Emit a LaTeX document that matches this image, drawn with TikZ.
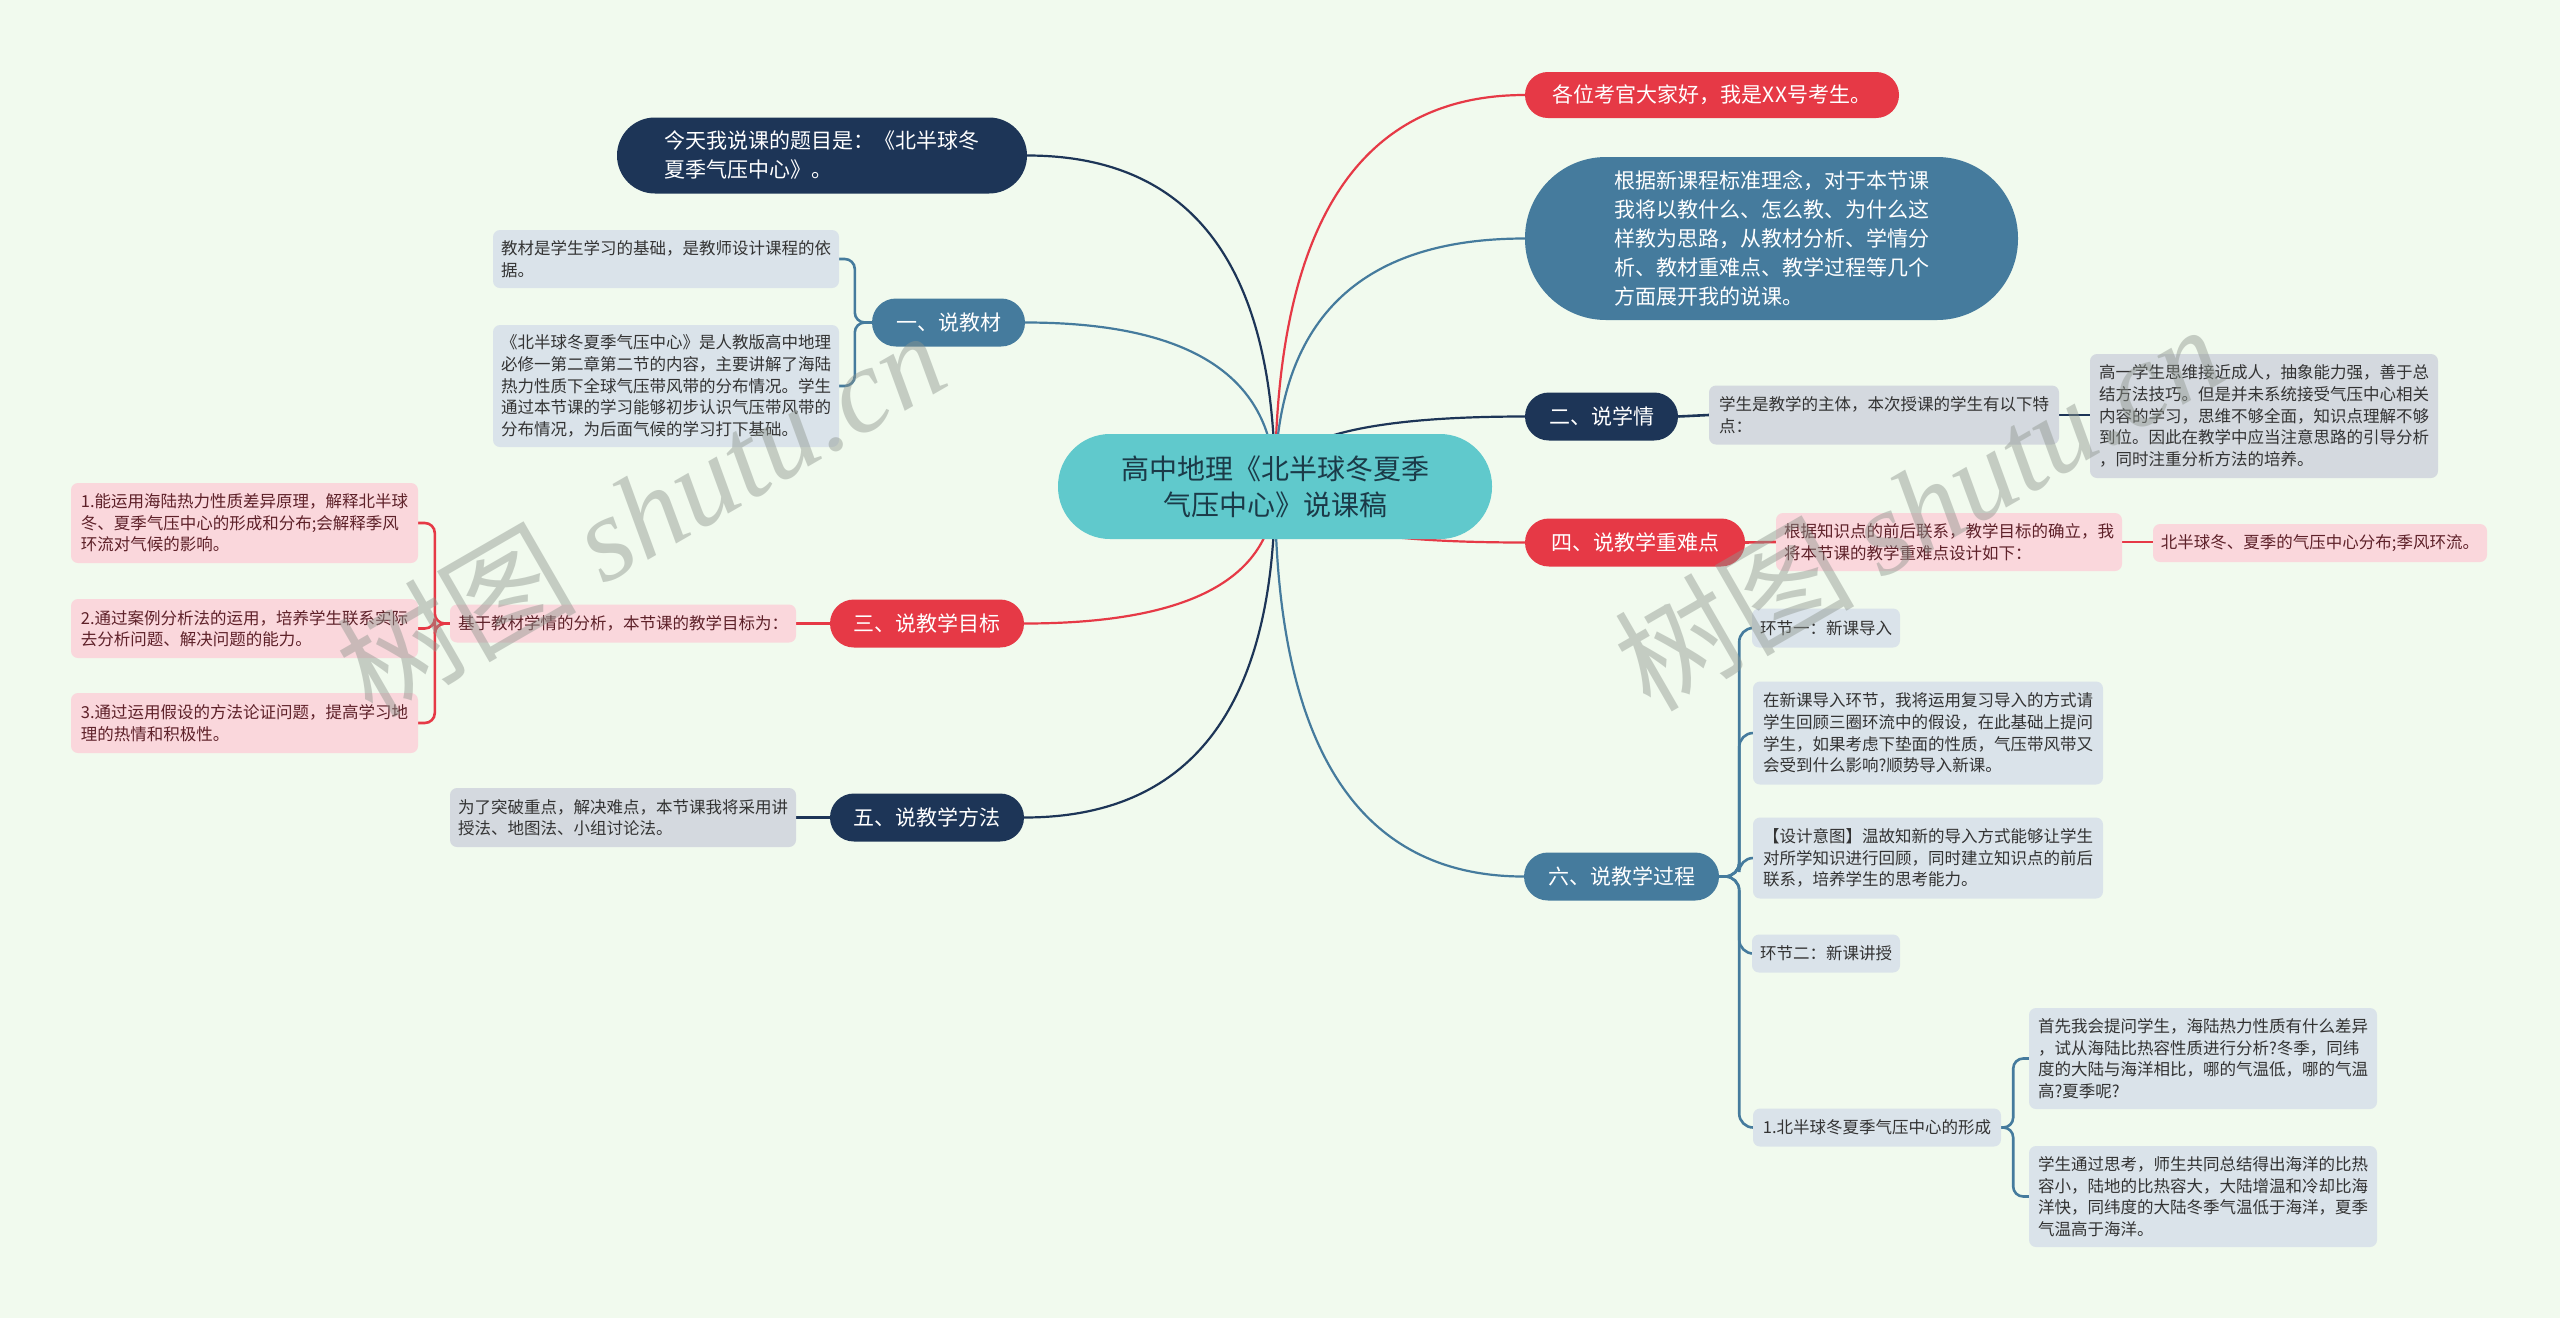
\documentclass[tikz,border=0pt]{standalone}
\usepackage{fontspec}
\setmainfont{Noto Sans CJK SC}
\newfontfamily\wmserif{Liberation Serif}
\usetikzlibrary{calc}
\definecolor{bgc}{HTML}{F1FAEE}
\definecolor{redc}{HTML}{E63946}
\definecolor{navyc}{HTML}{1D3557}
\definecolor{bluec}{HTML}{457B9D}
\definecolor{tealc}{HTML}{60C9CC}
\definecolor{grayfill}{HTML}{D4D9DF}
\definecolor{bluefill}{HTML}{DAE3EA}
\definecolor{pinkfill}{HTML}{FAD7DC}
\definecolor{pinktext}{HTML}{5E2129}
\definecolor{graytext}{HTML}{333333}
\definecolor{centertext}{HTML}{1B3A48}
\definecolor{wmc}{HTML}{8E968E}
\newcommand\fsmain{\fontsize{21}{29}\selectfont}
\newcommand\fssmall{\fontsize{16.5}{21.6}\selectfont}
\newcommand\fscenter{\fontsize{28}{36}\selectfont}
\newcommand\branch[2]{%
  \coordinate (k) at (cen.center |- #2);
  \draw[#1, edge] (cen.center) .. controls ($(cen.center)!0.6667!(k)$) and ($(#2)!0.6667!(k)$) .. (#2);}
\pgfdeclarelayer{bg}
\pgfdeclarelayer{edges}
\pgfdeclarelayer{wm}
\pgfsetlayers{bg,edges,main,wm}
\begin{document}
\begin{tikzpicture}[x=1pt,y=-1pt,
  pill/.style={rounded corners=#1, inner sep=2pt, align=left, text=white, font=\fsmain},
  sz/.style 2 args={minimum width=#1, minimum height=#2},
  gbox/.style={rounded corners=7, fill=grayfill, text=graytext, font=\fssmall, align=left, inner sep=2pt},
  bbox/.style={gbox, fill=bluefill},
  pbox/.style={gbox, fill=pinkfill, text=pinktext},
  edge/.style={line width=2.2pt},
  sub/.style={line width=2.6pt},
  wmark/.style={rotate=30, text=wmc, opacity=0.45, font=\fontsize{120}{120}\selectfont}
]
\begin{pgfonlayer}{bg}
\fill[bgc] (0,0) rectangle (2560,1318);
\end{pgfonlayer}
\useasboundingbox (0,0) rectangle (2560,1318);

% center
\node[fill=tealc, rounded corners=52, sz={434}{105}, font=\fscenter, text=centertext, align=center, inner sep=2pt] (cen) at (1275,486.5) {高中地理《北半球冬夏季\\气压中心》说课稿};

% right side
\node[pill=22.9, fill=redc, sz={374}{46}] (r1) at (1712,95) {各位考官大家好，我是XX号考生。};
\node[pill=81, fill=bluec, sz={493}{163}] (r2) at (1771.5,238.5) {根据新课程标准理念，对于本节课\\我将以教什么、怎么教、为什么这\\样教为思路，从教材分析、学情分\\析、教材重难点、教学过程等几个\\方面展开我的说课。};
\node[pill=23.9, fill=navyc, sz={153}{48}] (r3) at (1601.5,416.5) {二、说学情};
\node[gbox, sz={350}{59}] (r3a) at (1884,415) {学生是教学的主体，本次授课的学生有以下特\\点：};
\node[gbox, sz={348}{124}] (r3b) at (2264,416) {高一学生思维接近成人，抽象能力强，善于总\\结方法技巧。但是并未系统接受气压中心相关\\内容的学习，思维不够全面，知识点理解不够\\到位。因此在教学中应当注意思路的引导分析\\，同时注重分析方法的培养。};
\node[pill=23.9, fill=redc, sz={220}{48}] (r4) at (1635,542.5) {四、说教学重难点};
\node[pbox, sz={346}{58}] (r4a) at (1949,542) {根据知识点的前后联系，教学目标的确立，我\\将本节课的教学重难点设计如下：};
\node[pbox, sz={334}{38}] (r4b) at (2320,543) {北半球冬、夏季的气压中心分布;季风环流。};
\node[pill=23.9, fill=bluec, sz={195}{48}] (r6) at (1621.5,876.5) {六、说教学过程};
\node[bbox, sz={148}{39}] (r6a) at (1826,628) {环节一：新课导入};
\node[bbox, sz={350}{103}] (r6b) at (1928,733) {在新课导入环节，我将运用复习导入的方式请\\学生回顾三圈环流中的假设，在此基础上提问\\学生，如果考虑下垫面的性质，气压带风带又\\会受到什么影响?顺势导入新课。};
\node[bbox, sz={350}{81}] (r6c) at (1928,858) {【设计意图】温故知新的导入方式能够让学生\\对所学知识进行回顾，同时建立知识点的前后\\联系，培养学生的思考能力。};
\node[bbox, sz={148}{38}] (r6d) at (1826,953.5) {环节二：新课讲授};
\node[bbox, sz={248}{38}] (r6e) at (1877,1127.5) {1.北半球冬夏季气压中心的形成};
\node[bbox, sz={348}{101}] (r6e1) at (2203,1058.5) {首先我会提问学生，海陆热力性质有什么差异\\，试从海陆比热容性质进行分析?冬季，同纬\\度的大陆与海洋相比，哪的气温低，哪的气温\\高?夏季呢?};
\node[bbox, sz={348}{101}] (r6e2) at (2203,1196.5) {学生通过思考，师生共同总结得出海洋的比热\\容小，陆地的比热容大，大陆增温和冷却比海\\洋快，同纬度的大陆冬季气温低于海洋，夏季\\气温高于海洋。};

% left side
\node[pill=37.9, fill=navyc, sz={410}{76}] (l1) at (822,155.5) {今天我说课的题目是：《北半球冬\\夏季气压中心》。};
\node[pill=23.9, fill=bluec, sz={153}{48}] (l2) at (948.5,322.5) {一、说教材};
\node[bbox, sz={346}{58}] (l2a) at (666,259) {教材是学生学习的基础，是教师设计课程的依\\据。};
\node[bbox, sz={346}{122}] (l2b) at (666,386) {《北半球冬夏季气压中心》是人教版高中地理\\必修一第二章第二节的内容，主要讲解了海陆\\热力性质下全球气压带风带的分布情况。学生\\通过本节课的学习能够初步认识气压带风带的\\分布情况，为后面气候的学习打下基础。};
\node[pill=23.9, fill=redc, sz={194}{48}] (l3) at (927,623.5) {三、说教学目标};
\node[pbox, sz={346}{38}] (l3a) at (623,623.5) {基于教材学情的分析，本节课的教学目标为：};
\node[pbox, sz={347}{80}] (l3b) at (244.5,523) {1.能运用海陆热力性质差异原理，解释北半球\\冬、夏季气压中心的形成和分布;会解释季风\\环流对气候的影响。};
\node[pbox, sz={347}{59}] (l3c) at (244.5,628.5) {2.通过案例分析法的运用，培养学生联系实际\\去分析问题、解决问题的能力。};
\node[pbox, sz={347}{60}] (l3d) at (244.5,723) {3.通过运用假设的方法论证问题，提高学习地\\理的热情和积极性。};
\node[pill=23.9, fill=navyc, sz={194}{48}] (l5) at (927,817.5) {五、说教学方法};
\node[gbox, sz={346}{59}] (l5a) at (623,817.5) {为了突破重点，解决难点，本节课我将采用讲\\授法、地图法、小组讨论法。};

\begin{pgfonlayer}{edges}
\branch{redc}{r1.west}
\branch{bluec}{r2.west}
\branch{navyc}{r3.west}
\branch{redc}{r4.west}
\branch{bluec}{r6.west}
\branch{navyc}{l1.east}
\branch{bluec}{l2.east}
\branch{redc}{l3.east}
\branch{navyc}{l5.east}
\draw[sub, navyc] (r3.east) -- (r3a.west);
\draw[sub, navyc] (r3a.east) -- (r3a.east -| r3b.west);
\draw[sub, redc] (r4.east) -- (r4a.west);
\draw[sub, redc] (r4a.east) -- (r4a.east -| r4b.west);
\foreach \c in {r6a,r6b,r6c,r6d,r6e}
  \draw[sub, bluec, rounded corners=14] (r6.east) -- ++(20,0) |- (\c.west);
\foreach \c in {r6e1,r6e2}
  \draw[sub, bluec, rounded corners=10] (r6e.east) -- ++(12,0) |- (\c.west);
\foreach \c in {l2a,l2b}
  \draw[sub, bluec, rounded corners=10] (l2.west) -- ++(-17,0) |- (\c.east);
\draw[sub, redc] (l3.west) -- (l3a.east);
\foreach \c in {l3b,l3c,l3d}
  \draw[sub, redc, rounded corners=10] (l3a.west) -- ++(-15,0) |- (\c.east);
\draw[sub, navyc] (l5.west) -- (l5a.east);
\end{pgfonlayer}

\begin{pgfonlayer}{wm}
\node[wmark] (wm1) at (640,512) {树图 {\wmserif\itshape shutu.cn}};
\node[wmark] (wm2) at (1918,506) {树图 {\wmserif\itshape shutu.cn}};
\end{pgfonlayer}
\end{tikzpicture}
\end{document}
